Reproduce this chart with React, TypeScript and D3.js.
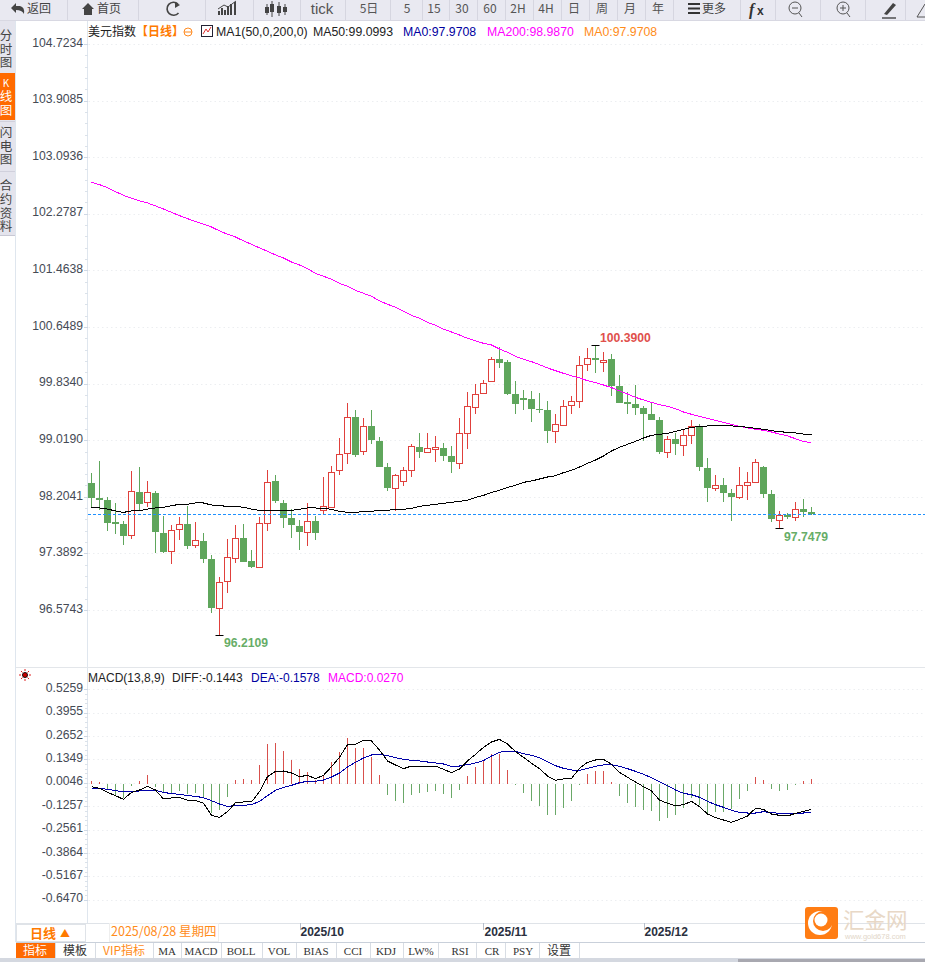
import React from "react";
import * as d3 from "d3";

const highs = [98.552,98.720,98.206,98.120,97.856,98.576,98.633,98.432,98.288,97.928,97.798,97.908,98.072,97.841,97.683,97.361,97.049,97.601,97.798,97.812,97.438,97.908,98.590,98.518,98.153,98.024,97.870,98.115,97.928,98.489,98.648,99.051,99.555,99.454,99.334,99.454,99.060,98.691,98.528,98.633,98.964,99.123,99.123,99.080,98.979,98.936,99.334,99.713,99.824,99.886,100.217,100.361,100.174,99.872,99.742,99.728,99.699,99.584,99.396,99.598,99.656,100.232,100.347,100.390,100.289,100.260,99.958,99.713,99.814,99.512,99.569,99.353,99.080,99.123,99.166,99.310,99.252,98.763,98.518,98.475,98.316,98.633,98.561,98.748,98.648,98.302,98.000,97.971,98.129,98.172,98.057];
const lows = [98.038,98.014,97.707,97.668,97.510,97.596,98.014,98.062,97.400,97.390,97.236,97.582,97.452,97.467,97.256,96.531,96.2109,96.819,97.251,97.265,97.179,97.188,97.712,98.115,97.755,97.611,97.438,97.496,97.582,97.942,98.062,98.518,98.676,98.777,98.806,98.964,98.638,98.292,98.000,98.360,98.489,98.763,98.835,98.705,98.720,98.547,98.604,98.892,99.396,99.704,99.867,100.059,99.670,99.396,99.454,99.281,99.411,98.979,98.979,99.243,99.396,99.483,100.016,99.987,100.001,99.656,99.555,99.396,99.382,99.008,99.310,98.820,98.763,98.806,98.792,98.964,98.576,98.129,98.288,98.129,97.856,98.172,98.158,98.412,98.187,97.841,97.7479,97.884,97.856,97.913,97.942];
const opens = [98.403,98.187,98.158,97.841,97.812,97.659,98.273,98.124,98.259,97.683,97.419,97.736,97.812,97.515,97.568,97.308,96.608,96.996,97.328,97.611,97.280,97.188,97.832,98.432,98.115,97.899,97.784,97.702,97.856,98.009,98.062,98.585,98.840,99.353,98.868,99.224,99.008,98.633,98.336,98.427,98.595,98.921,98.854,98.897,98.907,98.792,98.696,99.128,99.502,99.704,99.867,100.188,100.145,99.684,99.627,99.612,99.468,99.454,99.156,99.243,99.531,99.579,100.112,100.203,100.150,100.188,99.800,99.569,99.540,99.483,99.396,99.310,98.854,99.036,98.950,99.094,99.224,98.619,98.336,98.374,98.259,98.206,98.379,98.422,98.633,98.244,97.875,97.942,97.918,98.028,97.985];
const closes = [98.192,98.158,97.832,97.812,97.640,98.283,98.100,98.268,97.697,97.409,97.721,97.808,97.496,97.577,97.308,96.603,96.972,97.332,97.606,97.265,97.193,97.822,98.412,98.144,97.899,97.798,97.697,97.851,97.683,98.067,98.556,98.816,99.348,98.806,99.219,99.022,98.638,98.331,98.513,98.585,98.931,98.849,98.902,98.916,98.792,98.705,99.118,99.507,99.680,99.838,100.184,100.131,99.684,99.540,99.598,99.468,99.454,99.152,99.248,99.507,99.584,100.097,100.198,100.174,100.174,99.800,99.555,99.545,99.483,99.396,99.310,98.849,99.032,98.964,99.089,99.219,98.633,98.331,98.369,98.259,98.201,98.369,98.412,98.700,98.244,97.884,97.937,97.913,98.024,97.985,97.952];
const ma50 = [98.052,98.043,98.028,98.000,97.980,98.000,98.005,98.028,98.043,98.052,98.076,98.096,98.096,98.115,98.115,98.086,98.076,98.067,98.067,98.052,98.028,98.009,98.009,98.009,98.009,98.009,98.024,98.043,98.043,98.038,98.024,97.995,97.980,97.976,97.995,97.995,98.009,98.009,98.024,98.024,98.038,98.067,98.081,98.096,98.110,98.124,98.139,98.153,98.196,98.225,98.268,98.297,98.340,98.369,98.412,98.432,98.460,98.489,98.508,98.552,98.585,98.633,98.686,98.734,98.792,98.864,98.916,98.960,99.003,99.051,99.089,99.104,99.118,99.147,99.176,99.204,99.214,99.224,99.233,99.233,99.224,99.219,99.204,99.190,99.176,99.156,99.142,99.132,99.123,99.108,99.0993];
const ma200 = [102.732,102.699,102.656,102.598,102.545,102.502,102.464,102.435,102.392,102.348,102.300,102.252,102.209,102.166,102.128,102.089,102.032,101.984,101.945,101.888,101.840,101.787,101.739,101.686,101.643,101.585,101.542,101.489,101.422,101.379,101.336,101.278,101.235,101.177,101.134,101.091,101.024,100.976,100.932,100.875,100.817,100.774,100.716,100.673,100.616,100.577,100.534,100.486,100.448,100.414,100.390,100.332,100.284,100.227,100.184,100.150,100.107,100.059,100.020,99.982,99.944,99.915,99.876,99.848,99.814,99.776,99.728,99.684,99.636,99.598,99.564,99.531,99.507,99.473,99.425,99.392,99.363,99.334,99.305,99.276,99.248,99.219,99.195,99.176,99.161,99.137,99.108,99.080,99.041,98.998,98.987];
const macdHist = [0.0145,0.0108,-0.0357,-0.0635,-0.0821,-0.0134,0.0145,0.0479,-0.0171,-0.0542,-0.0542,-0.0412,-0.0579,-0.0505,-0.0784,-0.1619,-0.1470,-0.0728,0.0201,0.0256,0.0201,0.1036,0.2206,0.2280,0.1816,0.1315,0.0813,0.0646,0.0201,0.0479,0.1185,0.1760,0.2540,0.1983,0.1983,0.1482,0.0479,-0.0635,-0.0969,-0.1062,-0.0635,-0.0505,-0.0449,-0.0431,-0.0579,-0.0784,-0.0357,0.0423,0.0925,0.1259,0.1649,0.1649,0.0758,-0.0078,-0.0505,-0.0969,-0.1248,-0.1749,-0.1731,-0.1341,-0.0969,-0.0078,0.0535,0.0702,0.0720,0.0108,-0.0691,-0.1062,-0.1285,-0.1470,-0.1526,-0.2065,-0.1898,-0.1749,-0.1341,-0.0784,-0.1192,-0.1638,-0.1564,-0.1564,-0.1415,-0.0858,-0.0412,0.0368,0.0201,-0.0301,-0.0412,-0.0357,-0.0078,0.0145,0.0270];
const diffLine = [-0.0171,-0.0264,-0.0487,-0.0672,-0.0877,-0.0487,-0.0357,-0.0152,-0.0357,-0.0858,-0.0802,-0.0765,-0.0932,-0.0932,-0.1099,-0.1768,-0.1879,-0.1564,-0.1062,-0.1025,-0.1025,-0.0449,0.0386,0.0683,0.0702,0.0590,0.0386,0.0460,0.0275,0.0460,0.0943,0.1463,0.2169,0.2187,0.2410,0.2373,0.1872,0.1259,0.1036,0.0832,0.0980,0.0980,0.0980,0.0980,0.0795,0.0609,0.0813,0.1259,0.1630,0.2020,0.2317,0.2466,0.2206,0.1779,0.1463,0.1129,0.0832,0.0423,0.0182,0.0256,0.0293,0.0850,0.1185,0.1315,0.1352,0.1073,0.0628,0.0349,0.0089,-0.0171,-0.0412,-0.0914,-0.1099,-0.1229,-0.1174,-0.0988,-0.1285,-0.1694,-0.1898,-0.2028,-0.2158,-0.1991,-0.1805,-0.1378,-0.1434,-0.1694,-0.1768,-0.1805,-0.1657,-0.1545,-0.1443];
const deaLine = [-0.0245,-0.0264,-0.0319,-0.0394,-0.0449,-0.0449,-0.0412,-0.0375,-0.0375,-0.0487,-0.0561,-0.0598,-0.0672,-0.0709,-0.0784,-0.0951,-0.1137,-0.1267,-0.1229,-0.1211,-0.1174,-0.0988,-0.0672,-0.0375,-0.0208,-0.0097,0.0052,0.0126,0.0126,0.0200,0.0368,0.0590,0.0925,0.1185,0.1426,0.1593,0.1630,0.1556,0.1445,0.1352,0.1296,0.1259,0.1203,0.1148,0.1092,0.0962,0.0980,0.1055,0.1148,0.1278,0.1538,0.1742,0.1816,0.1798,0.1668,0.1575,0.1445,0.1222,0.0999,0.0850,0.0758,0.0739,0.0850,0.0962,0.1036,0.1055,0.0962,0.0832,0.0683,0.0516,0.0330,0.0108,-0.0115,-0.0357,-0.0542,-0.0617,-0.0765,-0.0988,-0.1174,-0.1322,-0.1489,-0.1601,-0.1638,-0.1638,-0.1564,-0.1619,-0.1657,-0.1657,-0.1657,-0.1638,-0.1578];

const priceTicks = [104.7234,103.9085,103.0936,102.2787,101.4638,100.6489,99.8340,99.0190,98.2041,97.3892,96.5743];
const macdTicks = [0.5259,0.3955,0.2652,0.1349,0.0046,-0.1257,-0.2561,-0.3864,-0.5167,-0.6470];
const lastPrice = 97.954;
const dateTicks = [{ label: "2025/10", i: 26 }, { label: "2025/11", i: 49 }, { label: "2025/12", i: 69 }];

const toolItems: [string, number][] = [["5日",369],["5",407],["15",434],["30",462],["60",490],["2H",518],["4H",546],["日",574],["周",602],["月",630],["年",658]];
const toolSeps = [67,138,205,253,300,345,390,422,449,477,505,533,561,589,617,645,673,740,775,820,865,905];
const tabs: [string, number, string][] = [["MA",167,"#333"],["MACD",201,"#333"],["BOLL",241,"#333"],["VOL",279,"#333"],["BIAS",316,"#333"],["CCI",353,"#333"],["KDJ",386,"#333"],["LW%",421,"#333"],["RSI",460,"#333"],["CR",492,"#333"],["PSY",523,"#333"]];
const tabSeps = [55,95,153,181,221,262,296,336,370,403,438,476,505,539,579];
const sideA = ["分","时","图"];
const sideB = ["K","线","图"];
const sideC = ["闪","电","图"];
const sideD = ["合","约","资","料"];

const RED = "#e0403c";
const GREEN = "#5fa65c";
const SANS = "'Liberation Sans', Arial, sans-serif";
const CJK = "'Noto Sans CJK SC', 'Liberation Sans', sans-serif";

export default function App() {
  const x = d3.scaleLinear().domain([0, 90]).range([91.5, 811.5]);
  const y = d3.scaleLinear().domain([96.5743, 104.7234]).range([610, 44]);
  const my = d3.scaleLinear().domain([0, 0.5259]).range([783.6, 689.2]);
  const line = d3.line<number>().x((_, i) => x(i)).y((d) => y(d));
  const mline = d3.line<number>().x((_, i) => x(i)).y((d) => my(d));
  const px = (v: number) => Math.round(v);

  const minorY: number[] = [];
  for (let k = 0; k < priceTicks.length - 1; k++) {
    const a = y(priceTicks[k]), b = y(priceTicks[k + 1]);
    d3.range(1, 5).forEach((j) => minorY.push(a + ((b - a) * j) / 5));
  }
  const mMinor: number[] = [];
  for (let k = 0; k < macdTicks.length - 1; k++) {
    const a = my(macdTicks[k]), b = my(macdTicks[k + 1]);
    d3.range(1, 5).forEach((j) => mMinor.push(a + ((b - a) * j) / 5));
  }

  return (
    <svg width={925} height={962} style={{ position: "fixed", left: 0, top: 0, background: "#fff" }} fontFamily={SANS}>
      {/* toolbar */}
      <rect x={0} y={0} width={925} height={20} fill="#e9e9f1" />
      <line x1={0} x2={925} y1={20.5} y2={20.5} stroke="#d8d8e2" />
      {toolSeps.map((s) => <line key={s} x1={s + 0.5} x2={s + 0.5} y1={0} y2={20} stroke="#d6d6e0" />)}
      <path d="M11 8 L16 3 V6 H20 Q25 7 24 14 Q22 10 16 10 V13 Z" fill="#444" />
      <text x={27} y={13} fontSize={12} fill="#444" fontFamily={CJK}>返回</text>
      <path d="M82 9 L88 3 L94 9 H92 V15 H84 V9 Z" fill="#444" />
      <text x={97} y={13} fontSize={12} fill="#444" fontFamily={CJK}>首页</text>
      <path d="M178 4 A6.5 6.5 0 1 0 178.5 13" fill="none" stroke="#444" strokeWidth={1.6} />
      <path d="M175 2 L180 5 L175 8 Z" fill="#444" />
      <path d="M219 15 V11 M222 15 V8 M225 15 V10 M228 15 V6 M231 15 V4 M235 15 V2" stroke="#444" strokeWidth={2} />
      <path d="M218 9 L224 5 L228 7 L236 1" stroke="#444" fill="none" />
      <path d="M267 4 V15 M272 1 V17 M279 2 V16 M285 4 V15" stroke="#444" />
      <path d="M265 7 H269 V13 H265 Z M270 4 H274 V12 H270 Z M277 6 H281 V13 H277 Z M283 7 H287 V12 H283 Z" fill="#444" />
      <text x={322} y={14} fontSize={15} fill="#555" textAnchor="middle">tick</text>
      {toolItems.map(([t, xx]) => <text key={t} x={xx} y={13} fontSize={12} fill="#555" textAnchor="middle" fontFamily={CJK}>{t}</text>)}
      <path d="M688 4 H700 M688 8.5 H700 M688 13 H700" stroke="#333" strokeWidth={2} />
      <text x={702} y={13} fontSize={12} fill="#444" fontFamily={CJK}>更多</text>
      <text x={749} y={15} fontSize={16} fontWeight="bold" fontStyle="italic" fill="#333" fontFamily="'Liberation Serif', serif">f</text>
      <text x={757} y={15} fontSize={12} fontWeight="bold" fill="#333">x</text>
      <circle cx={795} cy={8} r={6} fill="none" stroke="#555" />
      <path d="M792 8 H798 M799 13 L802 17" stroke="#555" />
      <circle cx={843} cy={8} r={6} fill="none" stroke="#555" />
      <path d="M840 8 H846 M843 5 V11 M847 13 L850 17" stroke="#555" />
      <path d="M884 14 L893 3 L896 5 L887 15 Z" fill="#444" />
      <path d="M882 18 H896" stroke="#444" strokeWidth={1.4} />
      <path d="M917 17 L925 4 M917 17 H925" stroke="#555" fill="none" />

      {/* left strip */}
      <rect x={0} y={21} width={15} height={214} fill="#e4e4ed" />
      <rect x={0} y={73} width={15} height={47} fill="#ff6a00" />
      <line x1={0} x2={15} y1={121.5} y2={121.5} stroke="#d0d0dc" />
      <line x1={0} x2={15} y1={171.5} y2={171.5} stroke="#d0d0dc" />
      <line x1={0} x2={15} y1={235.5} y2={235.5} stroke="#c8c8d4" />
      {sideA.map((c, i) => <text key={i} x={6} y={40 + i * 13.5} fontSize={12.5} textAnchor="middle" fill="#444" fontFamily={CJK}>{c}</text>)}
      {sideB.map((c, i) => <text key={i} x={6} y={87 + i * 14} fontSize={c === "K" ? 10 : 12.5} textAnchor="middle" fill="#fff" fontFamily={CJK}>{c}</text>)}
      {sideC.map((c, i) => <text key={i} x={6} y={137 + i * 13.5} fontSize={12.5} textAnchor="middle" fill="#444" fontFamily={CJK}>{c}</text>)}
      {sideD.map((c, i) => <text key={i} x={6} y={190 + i * 13.8} fontSize={12.5} textAnchor="middle" fill="#444" fontFamily={CJK}>{c}</text>)}
      <line x1={15.5} x2={15.5} y1={21} y2={942} stroke="#dfe6ee" />
      <line x1={87.5} x2={87.5} y1={21} y2={923} stroke="#dfe6ee" />

      {/* grid and axes */}
      {priceTicks.map((t) => (
        <g key={t}>
          <line x1={84} x2={925} y1={px(y(t)) + 0.5} y2={px(y(t)) + 0.5} stroke="#eceef1" strokeDasharray="1.5 3" />
          <line x1={84} x2={88} y1={px(y(t)) + 0.5} y2={px(y(t)) + 0.5} stroke="#cfd8e4" />
          <text x={83} y={y(t) + 2.7} fontSize={12.2} fill="#454a55" textAnchor="end">{t.toFixed(4)}</text>
        </g>
      ))}
      {minorY.map((v) => <line key={v} x1={85} x2={88} y1={px(v) + 0.5} y2={px(v) + 0.5} stroke="#dbe2ea" />)}
      <line x1={16} x2={925} y1={667.5} y2={667.5} stroke="#e3e6ea" />
      {macdTicks.map((t) => (
        <g key={t}>
          <line x1={84} x2={925} y1={px(my(t)) + 0.5} y2={px(my(t)) + 0.5} stroke="#eceef1" strokeDasharray="1.5 3" />
          <line x1={84} x2={88} y1={px(my(t)) + 0.5} y2={px(my(t)) + 0.5} stroke="#cfd8e4" />
          <text x={83} y={my(t) + 2.7} fontSize={12.2} fill="#454a55" textAnchor="end">{t.toFixed(4)}</text>
        </g>
      ))}
      {mMinor.map((v) => <line key={v} x1={85} x2={88} y1={px(v) + 0.5} y2={px(v) + 0.5} stroke="#dbe2ea" />)}

      {/* header */}
      <text x={88} y={36} fontSize={12} fill="#222" fontFamily={CJK}>美元指数</text>
      <text x={136} y={36} fontSize={12} fill="#ff7a00" fontFamily={CJK} fontWeight="bold">【日线】</text>
      <circle cx={188} cy={32} r={4} fill="none" stroke="#ff8a20" />
      <line x1={184} x2={192} y1={32} y2={32} stroke="#ff8a20" />
      <rect x={201.5} y={25.5} width={11} height={11} fill="#fff" stroke="#223" />
      <path d="M203 34 L206 29 L208 32 L211 27" stroke="#e03030" fill="none" />
      <text x={216} y={36} fontSize={12.3} fill="#222">MA1(50,0,200,0)</text>
      <text x={313} y={36} fontSize={12.3} fill="#222">MA50:99.0993</text>
      <text x={403} y={36} fontSize={12.3} fill="#0000a0">MA0:97.9708</text>
      <text x={487} y={36} fontSize={12.3} fill="#ff00ff">MA200:98.9870</text>
      <text x={584} y={36} fontSize={12.3} fill="#ff8c1a">MA0:97.9708</text>

      {/* candles */}
      {closes.map((c, i) => {
        const up = c >= opens[i];
        const col = up ? RED : GREEN;
        const xx = x(i);
        const top = px(y(Math.max(c, opens[i])));
        const bot = px(y(Math.min(c, opens[i])));
        return (
          <g key={i} shapeRendering="crispEdges">
            <line x1={xx} x2={xx} y1={y(highs[i])} y2={y(lows[i])} stroke={col} />
            {up ? (
              <rect x={xx - 3} y={top + 0.5} width={6} height={Math.max(bot - top, 1)} fill="#fff" stroke={col} />
            ) : (
              <rect x={xx - 3.5} y={top} width={7} height={Math.max(bot - top, 1)} fill={col} />
            )}
          </g>
        );
      })}

      {/* moving averages */}
      <path d={line(ma200) ?? ""} fill="none" stroke="#ff00ff" strokeWidth={1} shapeRendering="crispEdges" />
      <path d={line(ma50) ?? ""} fill="none" stroke="#000" strokeWidth={1} shapeRendering="crispEdges" />
      <line x1={88} x2={925} y1={px(y(lastPrice)) + 0.5} y2={px(y(lastPrice)) + 0.5} stroke="#1e90ff" strokeDasharray="3 2" />

      {/* high/low annotations */}
      <path d={`M${x(63) - 4} ${px(y(100.39)) + 0.5} H${x(63) + 4}`} stroke="#000" />
      <text x={600} y={342} fontSize={12.2} fontWeight="bold" fill="#e0504c">100.3900</text>
      <path d={`M${x(16) - 4} ${px(y(96.2109)) + 0.5} H${x(16) + 4}`} stroke="#000" />
      <text x={224} y={647} fontSize={12.2} fontWeight="bold" fill="#67ad67">96.2109</text>
      <path d={`M${x(86) - 4} ${px(y(97.7479)) + 0.5} H${x(86) + 4}`} stroke="#000" />
      <text x={784} y={541} fontSize={12.2} fontWeight="bold" fill="#67ad67">97.7479</text>

      {/* MACD panel */}
      <circle cx={25} cy={675} r={2.5} fill="#c00" stroke="#111" />
      <path d="M25 669 V671 M25 679 V681 M19 675 H21 M29 675 H31 M21 671 L22.5 672.5 M29 671 L27.5 672.5 M21 679 L22.5 677.5 M29 679 L27.5 677.5" stroke="#e02020" />
      <text x={88} y={682} fontSize={12} fill="#222">MACD(13,8,9)</text>
      <text x={172} y={682} fontSize={12} fill="#222">DIFF:-0.1443</text>
      <text x={251} y={682} fontSize={12} fill="#0000a0">DEA:-0.1578</text>
      <text x={328} y={682} fontSize={12} fill="#ff00ff">MACD:0.0270</text>
      {macdHist.map((v, i) => (
        <line key={i} x1={x(i)} x2={x(i)} y1={my(0)} y2={my(v)} stroke={v >= 0 ? "#d8504c" : "#6aa868"} shapeRendering="crispEdges" />
      ))}
      <path d={mline(deaLine) ?? ""} fill="none" stroke="#0000a8" strokeWidth={1} shapeRendering="crispEdges" />
      <path d={mline(diffLine) ?? ""} fill="none" stroke="#000" strokeWidth={1} shapeRendering="crispEdges" />

      {/* date axis */}
      <line x1={16} x2={925} y1={923.5} y2={923.5} stroke="#dfe3e8" />
      <line x1={16} x2={925} y1={942.5} y2={942.5} stroke="#c9d0da" />
      <rect x={16.5} y={924.5} width={69} height={17} fill="#fff" stroke="#dfe3e8" />
      <text x={30} y={938} fontSize={13} fontWeight="bold" fill="#ff7a00" fontFamily={CJK}>日线</text>
      <text x={60} y={937} fontSize={10} fill="#ff7a00" fontFamily={CJK}>▲</text>
      <rect x={109.5} y={923.5} width={109} height={18} fill="#fff" stroke="#eee" />
      <text x={111} y={936} fontSize={12.5} fill="#ff8c1a" fontFamily={CJK}>2025/08/28 星期四</text>
      {dateTicks.map((d) => (
        <g key={d.label}>
          <line x1={px(x(d.i)) + 0.5} x2={px(x(d.i)) + 0.5} y1={923} y2={930} stroke="#b8c0cc" />
          <text x={x(d.i) + 1} y={936} fontSize={12} fontWeight="bold" fill="#2a3040">{d.label}</text>
        </g>
      ))}

      {/* tabs */}
      <rect x={16} y={943} width={39} height={15} fill="#ff6a00" />
      <text x={35} y={955} fontSize={12} fill="#fff" textAnchor="middle" fontFamily={CJK}>指标</text>
      <text x={75} y={955} fontSize={12} fill="#333" textAnchor="middle" fontFamily={CJK}>模板</text>
      <text x={124} y={955} fontSize={12} fill="#ff8c1a" textAnchor="middle" fontFamily={CJK}>VIP指标</text>
      {tabs.map(([t, xx, c]) => (
        <text key={t} x={xx} y={955} fontSize={11} fill={c} textAnchor="middle" fontFamily="'Liberation Serif', serif">{t}</text>
      ))}
      <text x={559} y={955} fontSize={12} fill="#333" textAnchor="middle" fontFamily={CJK}>设置</text>
      {tabSeps.map((s) => <line key={s} x1={s + 0.5} x2={s + 0.5} y1={943} y2={958} stroke="#d8dde4" />)}
      <rect x={0} y={958} width={925} height={4} fill="#d4d8e0" />
      <rect x={738} y={959} width={187} height={3} fill="#a8a8b0" />

      {/* watermark */}
      <rect x={805} y={907} width={33} height={32} rx={3} fill="#ff7d14" />
      <circle cx={820} cy={923} r={12} fill="#fff" />
      <circle cx={823} cy={921} r={10} fill="#ff7d14" />
      <circle cx={821} cy={920} r={6.5} fill="#fff" />
      <text x={843} y={928} fontSize={21.5} fill="#e8d8c6" fontFamily={CJK}>汇金网</text>
      <text x={845} y={939} fontSize={7.5} fill="#e2d6c8">www.gold678.com</text>
    </svg>
  );
}
